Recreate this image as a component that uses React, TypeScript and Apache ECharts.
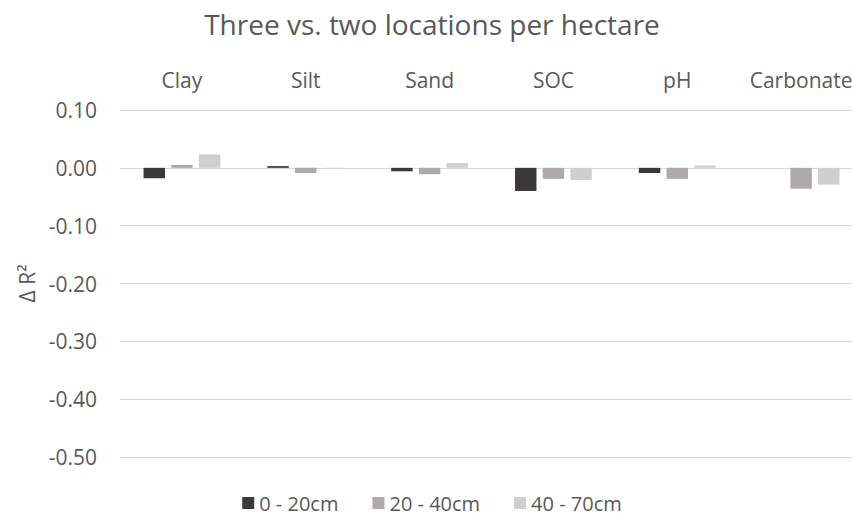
import React, { useEffect, useRef } from "react";
import * as echarts from "echarts";

const categories = ["Clay", "Silt", "Sand", "SOC", "pH", "Carbonate"];
const depth0to20 = [-0.018, 0.003, -0.006, -0.04, -0.009, 0];
const depth20to40 = [0.005, -0.009, -0.011, -0.019, -0.019, -0.036];
const depth40to70 = [0.023, -0.001, 0.008, -0.021, 0.004, -0.029];
const seriesNames = ["0 - 20cm", "20 - 40cm", "40 - 70cm"];
const seriesColors = ["#3b3838", "#aeaaaa", "#d0cece"];

const FONT = "'Open Sans', 'Liberation Sans', sans-serif";
const TEXT = "#595959";

export default function App() {
  const ref = useRef<HTMLDivElement>(null);

  useEffect(() => {
    document.body.style.margin = "0";
    if (!ref.current) return;
    const chart = echarts.init(ref.current, undefined, { renderer: "svg" });
    const values = [depth0to20, depth20to40, depth40to70];
    chart.setOption({
      animation: false,
      backgroundColor: "#ffffff",
      title: {
        text: "Three vs. two locations per hectare",
        left: "center",
        top: 5,
        textStyle: { fontFamily: FONT, fontSize: 28, fontWeight: "normal", color: TEXT },
      },
      legend: {
        top: 488,
        left: "center",
        itemWidth: 12,
        itemHeight: 12,
        itemGap: 34,
        icon: "rect",
        textStyle: { fontFamily: FONT, fontSize: 20, color: TEXT, lineHeight: 20 },
        data: seriesNames,
      },
      // the plot area runs a little past the visible right edge
      grid: { left: 120, right: 1, top: 110, height: 347, containLabel: false },
      xAxis: {
        type: "category",
        position: "top",
        data: categories,
        axisLine: { show: false },
        axisTick: { show: false },
        axisLabel: {
          interval: 0,
          hideOverlap: false,
          fontFamily: FONT,
          fontSize: 21,
          color: TEXT,
          margin: 20,
        },
      },
      yAxis: {
        type: "value",
        min: -0.5,
        max: 0.1,
        interval: 0.1,
        name: "Δ R²",
        nameLocation: "middle",
        nameGap: 76,
        nameRotate: 90,
        nameTextStyle: { fontFamily: FONT, fontSize: 21, color: TEXT },
        axisLine: { show: false },
        axisTick: { show: false },
        axisLabel: {
          fontFamily: FONT,
          fontSize: 21,
          color: TEXT,
          margin: 23,
          formatter: (v: number) => v.toFixed(2),
        },
        splitLine: { lineStyle: { color: "#d9d9d9", width: 1 } },
      },
      series: seriesNames.map((name, i) => ({
        name,
        type: "bar",
        data: values[i],
        barGap: "29%",
        barCategoryGap: "38%",
        itemStyle: { color: seriesColors[i] },
      })),
    });
    return () => chart.dispose();
  }, []);

  return (
    <div style={{ width: 852, height: 518, overflow: "hidden", position: "relative" }}>
      <div ref={ref} style={{ width: 864, height: 518 }} />
    </div>
  );
}
